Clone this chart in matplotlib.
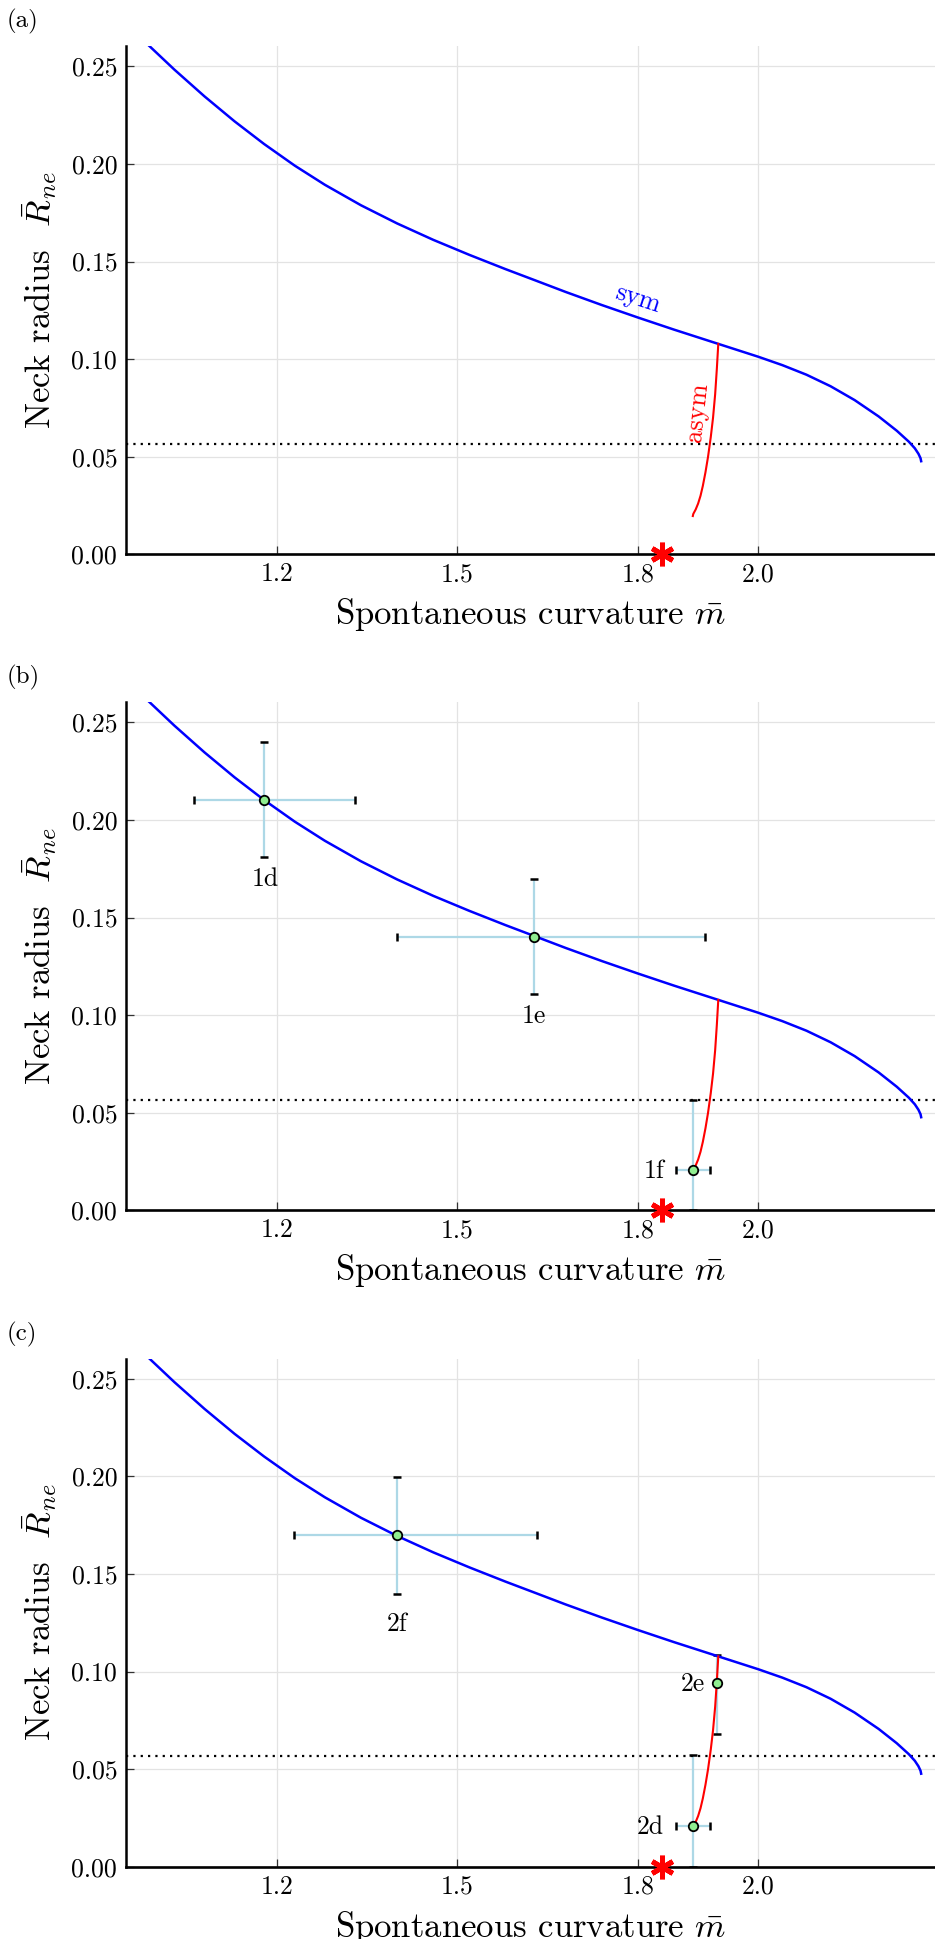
import matplotlib
matplotlib.use('Agg')
import matplotlib.pyplot as plt

plt.rcParams['font.family'] = ['cmr10', 'DejaVu Serif']
plt.rcParams['mathtext.fontset'] = 'cm'
plt.rcParams['axes.formatter.use_mathtext'] = True
plt.rcParams['axes.unicode_minus'] = False

# ---------------- data ----------------
sym_m = [0.9867, 1.0300, 1.0800, 1.1300, 1.1790, 1.2300, 1.2800, 1.3400,
         1.4000, 1.4600, 1.5200, 1.5800, 1.6280, 1.6800, 1.7400, 1.8000,
         1.8600, 1.9335, 2.0000, 2.0400, 2.0800, 2.1200, 2.1600, 2.2000,
         2.2300, 2.2500, 2.2600, 2.2660, 2.2695, 2.2705]
sym_R = [0.2609, 0.2483, 0.2346, 0.2218, 0.2102, 0.1991, 0.1893, 0.1788,
         0.1695, 0.1611, 0.1534, 0.1461, 0.1405, 0.1344, 0.1277, 0.1213,
         0.1151, 0.1078, 0.1012, 0.0969, 0.0920, 0.0861, 0.0790, 0.0706,
         0.0633, 0.0577, 0.0543, 0.0515, 0.0492, 0.0477]

asym_m = [1.9335, 1.9311, 1.9283, 1.9248, 1.9210, 1.9165, 1.9122, 1.9078,
          1.9040, 1.9000, 1.8960, 1.8920, 1.8912]
asym_R = [0.1078, 0.0950, 0.0820, 0.0700, 0.0600, 0.0500, 0.0420, 0.0350,
          0.0300, 0.0260, 0.0230, 0.0207, 0.0196]

threshold_R = 0.0566
star_m = [1.8395]
star_R = [0.0]

xticks = [1.2, 1.5, 1.8, 2.0]
xtick_labels = ['1.2', '1.5', '1.8', '2.0']
yticks = [0.00, 0.05, 0.10, 0.15, 0.20, 0.25]
ytick_labels = ['0.00', '0.05', '0.10', '0.15', '0.20', '0.25']

panel_letters = ['(a)', '(b)', '(c)']

# panel (b) experimental points
b_names = ['1d', '1e', '1f']
b_m = [1.179, 1.628, 1.891]
b_R = [0.2103, 0.1401, 0.0205]
b_m_lo = [0.116, 0.228, 0.027]
b_m_hi = [0.151, 0.283, 0.029]
b_R_lo = [0.0295, 0.0295, 0.0205]
b_R_hi = [0.0295, 0.0295, 0.0361]
b_label_m = [1.1806, 1.628, 1.845]
b_label_R = [0.1696, 0.0995, 0.0200]
b_label_ha = ['center', 'center', 'right']

# panel (c) experimental points
c_names = ['2f', '2e', '2d']
c_m = [1.400, 1.931, 1.891]
c_R = [0.1698, 0.0940, 0.0209]
c_m_lo = [0.171, 0.0, 0.028]
c_m_hi = [0.232, 0.0, 0.028]
c_R_lo = [0.030, 0.026, 0.0209]
c_R_hi = [0.030, 0.0143, 0.0362]
c_label_m = [1.400, 1.9115, 1.8425]
c_label_R = [0.1242, 0.0937, 0.0203]
c_label_ha = ['center', 'right', 'right']

# ---------------- figure ----------------
W, H = 935, 1939
fig = plt.figure(figsize=(W / 100, H / 100), dpi=100)

left = 125.5 / W
width = 1.0 - left
height = 508.3 / H
bottoms = [1 - 554.3 / H, 1 - 1210.3 / H, 1 - 1866.8 / H]

TICK_FS = 18.5
LABEL_FS = 25


def base_axes(bottom, letter):
    ax = fig.add_axes([left, bottom, width, height])
    ax.set_xlim(0.9488, 2.2935)
    ax.set_ylim(0.0, 0.2604)
    for s in ['top', 'right']:
        ax.spines[s].set_visible(False)
    ax.spines['left'].set_linewidth(1.8)
    ax.spines['bottom'].set_linewidth(1.9)
    ax.set_xticks(xticks)
    ax.set_xticklabels(xtick_labels)
    ax.set_yticks(yticks)
    ax.set_yticklabels(ytick_labels)
    ax.tick_params(direction='in', length=5.5, width=0.9, color='#333333',
                   labelsize=TICK_FS, pad=6)
    ax.grid(True, color='#e3e3e3', lw=0.9)
    ax.set_axisbelow(True)
    ax.set_xlabel(r'Spontaneous curvature $\bar{m}$', fontsize=LABEL_FS, labelpad=7)
    ax.set_ylabel(r'Neck radius  $\bar{R}_{ne}$', fontsize=LABEL_FS, labelpad=9)
    ax.axhline(threshold_R, color='black', lw=1.6, ls=(0, (1, 2.3)), zorder=2.5)
    ax.plot(sym_m, sym_R, color='blue', lw=1.8, zorder=3,
            solid_joinstyle='round')
    ax.plot(asym_m, asym_R, color='red', lw=1.5, zorder=3,
            solid_joinstyle='round')
    ax.plot(star_m, star_R, ls='none', marker=(6, 2, 0), color='red', ms=17,
            mew=3.6, clip_on=False, zorder=6)
    ax.annotate(letter, xy=(0, 1), xycoords='axes fraction',
                xytext=(-118.5 * 0.72, 24.5 * 0.72), textcoords='offset points',
                ha='left', va='center', fontsize=18)
    return ax


def add_points(ax, m, R, mlo, mhi, Rlo, Rhi, names, lm, lR, lha):
    eb = ax.errorbar(m, R, xerr=[mlo, mhi], yerr=[Rlo, Rhi], fmt='none',
                     ecolor='#add8e6', elinewidth=1.6, capsize=2.9,
                     capthick=1.8, zorder=2)
    for cap in eb[1]:
        cap.set_color('black')
        cap.set_markeredgecolor('black')
        cap.set_markerfacecolor('black')
    ax.plot(m, R, ls='none', marker='o', mfc='#90ee90', mec='black', ms=6.8,
            mew=1.3, zorder=4)
    for n, x, y, ha in zip(names, lm, lR, lha):
        ax.text(x, y, n, ha=ha, va='center', fontsize=TICK_FS, zorder=5)


ax_a = base_axes(bottoms[0], panel_letters[0])
ax_a.text(1.799, 0.1311, 'sym', color='blue', rotation=-18, ha='center',
          va='center', fontsize=19, rotation_mode='anchor')
ax_a.text(1.899, 0.0726, 'asym', color='red', rotation=84, ha='center',
          va='center', fontsize=19, rotation_mode='anchor')

ax_b = base_axes(bottoms[1], panel_letters[1])
add_points(ax_b, b_m, b_R, b_m_lo, b_m_hi, b_R_lo, b_R_hi,
           b_names, b_label_m, b_label_R, b_label_ha)

ax_c = base_axes(bottoms[2], panel_letters[2])
add_points(ax_c, c_m, c_R, c_m_lo, c_m_hi, c_R_lo, c_R_hi,
           c_names, c_label_m, c_label_R, c_label_ha)

fig.savefig('out.png', dpi=100)
